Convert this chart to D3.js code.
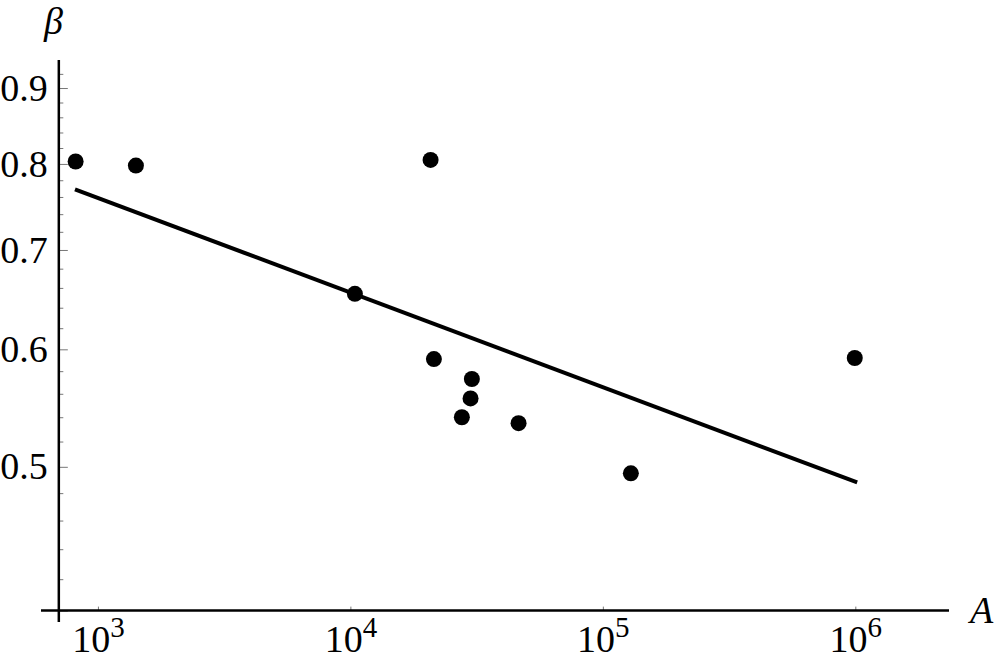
<!DOCTYPE html>
<html>
<head>
<meta charset="utf-8">
<script src="https://cdn.jsdelivr.net/npm/d3@7"></script>
<style>
  body { margin: 0; background: #fff; }
  svg { display: block; }
  svg text { font-family: "Liberation Serif", "Times New Roman", Times, serif; }
</style>
</head>
<body>
<svg width="1000" height="664"></svg>
<script>
// measured points: area A vs exponent beta
let areaA = [816, 1414, 20780, 10420, 21420, 30280, 29920, 27640, 46360, 129100, 995000];
let betaVals = [0.803, 0.798, 0.805, 0.654, 0.591, 0.573, 0.556, 0.540, 0.535, 0.495, 0.592];

// fitted power law, ends of the drawn line
let fitA = [811, 1017000];
let fitBeta = [0.769, 0.488];

let xTicks = [1e3, 1e4, 1e5, 1e6];
let xTickExps = ["3", "4", "5", "6"];
let yTicks = [0.4, 0.5, 0.6, 0.7, 0.8, 0.9];
let yTickLabels = ["", "0.5", "0.6", "0.7", "0.8", "0.9"];
let yMinor = [0.42, 0.44, 0.46, 0.48, 0.52, 0.54, 0.56, 0.58, 0.62, 0.64, 0.66, 0.68,
	0.72, 0.74, 0.76, 0.78, 0.82, 0.84, 0.86, 0.88, 0.92];

let svg = d3.select('svg');

let x = d3.scaleLog().domain([595, 2350000]).range([41, 949]);
let y = d3.scaleLog().domain([0.393, 0.94]).range([622, 60]);

let xOrigin = 700;   // where the beta axis crosses
let yOrigin = 0.4;   // where the A axis crosses

let tickColor = '#777';

// y axis ticks (inward)
let yMinorAxis = svg.append('g')
	.attr('transform', `translate(${x(xOrigin)},0)`)
	.call(d3.axisLeft(y).tickValues(yMinor).tickSizeInner(-4.5).tickSizeOuter(0).tickFormat(''));
yMinorAxis.select('.domain').remove();
yMinorAxis.selectAll('line').attr('stroke', tickColor);

let yAxis = svg.append('g')
	.attr('transform', `translate(${x(xOrigin)},0)`)
	.call(d3.axisLeft(y).tickValues(yTicks).tickSizeInner(-9).tickSizeOuter(0).tickPadding(11)
		.tickFormat((d, i) => yTickLabels[i]));
yAxis.attr('font-family', null);
yAxis.select('.domain').remove();
yAxis.selectAll('line').attr('stroke', tickColor);
yAxis.selectAll('text')
	.attr('font-size', 38)
	.attr('fill', '#000');

// x axis ticks
let xAxis = svg.append('g')
	.attr('transform', `translate(0,${y(yOrigin)})`)
	.call(d3.axisBottom(x).tickValues(xTicks).tickSizeInner(-4).tickSizeOuter(0).tickPadding(14)
		.tickFormat(''));
xAxis.attr('font-family', null);
xAxis.select('.domain').remove();
xAxis.selectAll('line').attr('stroke', tickColor);
xAxis.selectAll('.tick text')
	.attr('font-size', 38)
	.attr('fill', '#000')
	.each(function(d, i) {
		let t = d3.select(this);
		t.append('tspan').text('10');
		t.append('tspan').attr('font-size', 29).attr('dy', -15).text(xTickExps[i]);
	});

// axis lines
svg.append('line')
	.attr('x1', x.range()[0]).attr('x2', x.range()[1])
	.attr('y1', y(yOrigin)).attr('y2', y(yOrigin))
	.attr('stroke', '#000').attr('stroke-width', 2.5);
svg.append('line')
	.attr('x1', x(xOrigin)).attr('x2', x(xOrigin))
	.attr('y1', y.range()[0]).attr('y2', y.range()[1])
	.attr('stroke', '#000').attr('stroke-width', 2.5);

// axis names
svg.append('text')
	.attr('x', 44).attr('y', 34)
	.attr('font-size', 38).attr('font-style', 'italic')
	.text('β');
svg.append('text')
	.attr('x', 970).attr('y', 623)
	.attr('font-size', 38).attr('font-style', 'italic')
	.text('A');

// fit line
let fitData = fitA.map((a, i) => ({a: a, b: fitBeta[i]}));
svg.append('path')
	.datum(fitData)
	.attr('fill', 'none')
	.attr('stroke', '#000')
	.attr('stroke-width', 4)
	.attr('d', d3.line().x(d => x(d.a)).y(d => y(d.b)));

// points
svg.append('g')
	.selectAll('circle')
	.data(areaA.map((a, i) => ({a: a, b: betaVals[i]})))
	.enter()
	.append('circle')
	.attr('cx', d => x(d.a))
	.attr('cy', d => y(d.b))
	.attr('r', 8)
	.attr('fill', '#000');
</script>
</body>
</html>
